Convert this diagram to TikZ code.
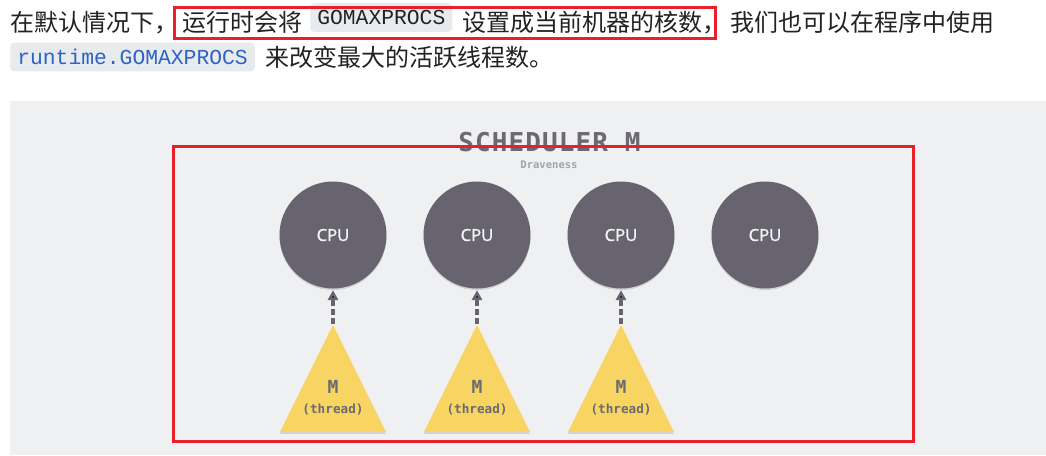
\documentclass[tikz,border=0pt]{standalone}
\usepackage{fontspec}
\setmainfont{Noto Sans CJK SC}
\newfontfamily\cjk{Noto Sans CJK SC}
\newfontfamily\codefont{Liberation Mono}
\newfontfamily\monofont{DejaVu Sans Mono}
\newfontfamily\titlefont[LetterSpace=4.2]{DejaVu Sans Mono}
\newfontfamily\cpufont[FakeBold=1.2]{Open Sans}
\usetikzlibrary{arrows.meta,shapes.geometric,shadows}

\definecolor{panel}{HTML}{EFF0F2}
\definecolor{codebg}{HTML}{E8EBEE}
\definecolor{ink}{HTML}{222222}
\definecolor{codeblue}{HTML}{2E63C4}
\definecolor{cpugray}{HTML}{67646F}
\definecolor{threadyellow}{HTML}{F8D563}
\definecolor{labelgray}{HTML}{6C6972}
\definecolor{faintgray}{HTML}{A3A4AA}
\definecolor{markred}{HTML}{E8202A}

\begin{document}
\begin{tikzpicture}[x=0.75pt,y=-0.75pt,node distance=108pt,
  para/.style={inner sep=0pt,anchor=base west,text=ink,font=\cjk\fontsize{18}{22}\selectfont},
  code/.style={fill=codebg,rounded corners=3pt,inner xsep=5.3pt,inner ysep=0pt,minimum height=21.5pt,
    anchor=west,font=\codefont\fontsize{16}{18}\selectfont},
  cpu node/.style={circle,fill=cpugray,minimum size=80.25pt,inner sep=0pt,text=white!93!cpugray,
    font=\cpufont\fontsize{12.5}{14}\selectfont,drop shadow={shadow xshift=0pt,shadow yshift=-1.2pt,opacity=.25}},
  thread node/.style={isosceles triangle,isosceles triangle stretches,shape border rotate=90,
    minimum width=79.5pt,minimum height=80.25pt,inner sep=0pt,fill=threadyellow,yshift=-15pt,
    drop shadow={shadow xshift=0pt,shadow yshift=-1.5pt,opacity=.25}},
  dash arrow/.style={draw=cpugray,line width=3pt,dash pattern=on 4.5pt off 2.5pt,
    -{Triangle[length=7.5pt,width=7.5pt]},shorten >=1pt},
  mark box/.style={draw=markred,line width=2.25pt}]

 \useasboundingbox (0,0) rectangle (1046,455);
 \fill[white] (0,0) rectangle (1046,455);

 % text above the figure
 \node[para] (p1) at (10,31) {在默认情况下，};
 \node[para] (p2) at (182,31) {运行时会将};
 \node[code,text=ink] (c1) at (310,17.5) {GOMAXPROCS};
 \node[para] (p3) at (462,31) {设置成当前机器的核数，};
 \node[para] (p4) at (730,31) {我们也可以在程序中使用};
 \node[code,text=codeblue] (c2) at (10,57) {runtime.GOMAXPROCS};
 \node[para] (p5) at (265,66) {来改变最大的活跃线程数。};

 % figure
 \fill[panel] (10,101) rectangle (1046,455);
 \node[text=labelgray,font=\titlefont\bfseries\fontsize{19.5}{22}\selectfont] (title) at (549.5,142.5) {SCHEDULER M};
 \node[text=faintgray,font=\monofont\bfseries\fontsize{7.9}{9}\selectfont] (author) at (549,165) {Draveness};

 \node[cpu node] (cpu1) at (333,235) {CPU};
 \node[cpu node] (cpu2) [right of=cpu1] {CPU};
 \node[cpu node] (cpu3) [right of=cpu2] {CPU};
 \node[cpu node] (cpu4) [right of=cpu3] {CPU};
 \node[thread node] (m1) [below of=cpu1] {};
 \node[thread node] (m2) [below of=cpu2] {};
 \node[thread node] (m3) [below of=cpu3] {};

 \foreach \i in {1,2,3} {
   \node[text=labelgray,font=\monofont\bfseries\fontsize{13.5}{15}\selectfont] (name\i) at (m\i.south) [yshift=34pt] {M};
   \node[text=labelgray,font=\monofont\bfseries\fontsize{9.5}{11}\selectfont] (kind\i) at (m\i.south) [yshift=17.25pt] {(thread)};
 }

 \path[dash arrow]
    (m1) edge (cpu1)
    (m2) edge (cpu2)
    (m3) edge (cpu3);

 % red marks
 \draw[mark box] (174,7) rectangle (715,38);
 \draw[mark box] (173,146) rectangle (913,441);

\end{tikzpicture}
\end{document}
